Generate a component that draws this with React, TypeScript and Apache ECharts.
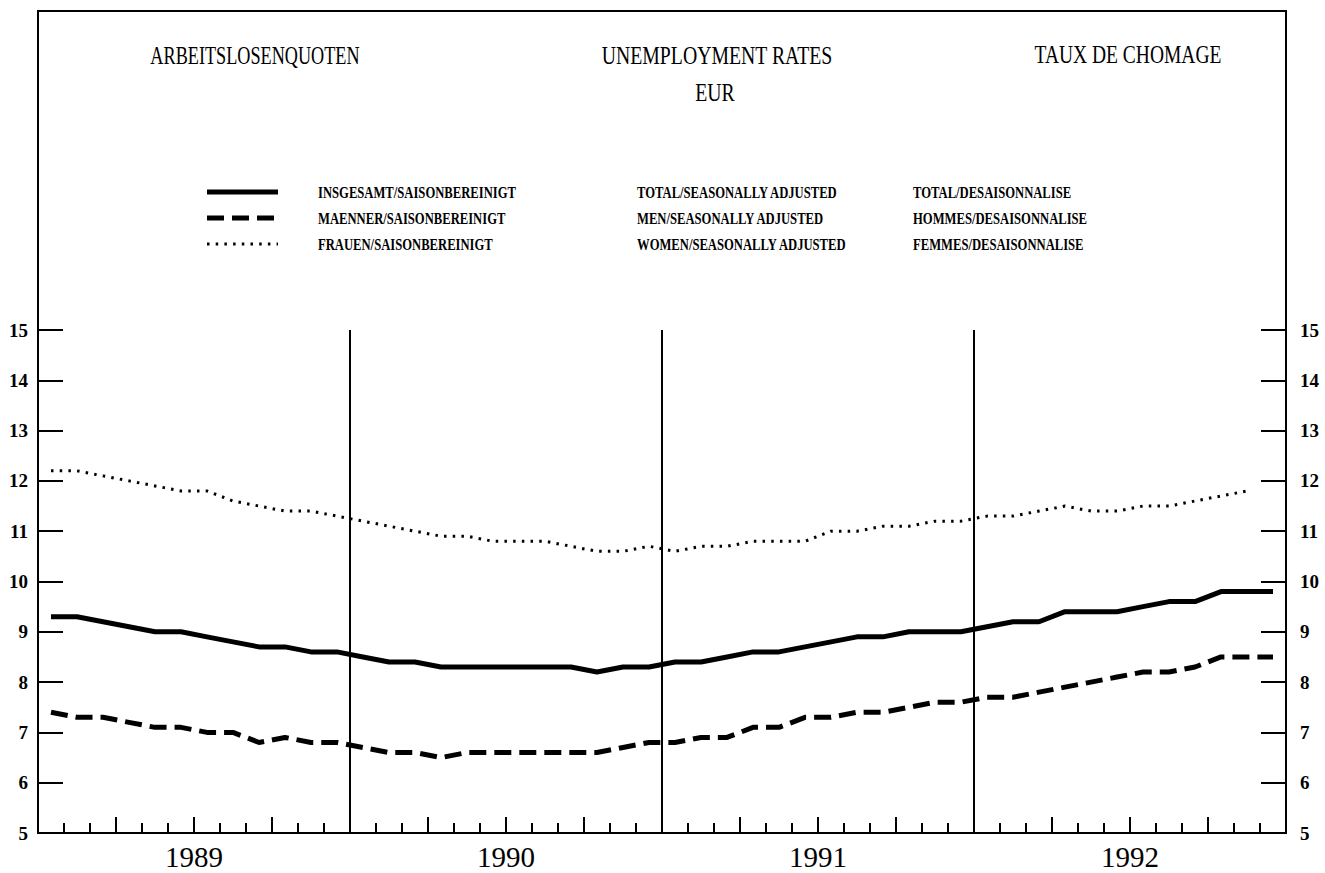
import React, { useEffect, useRef } from "react";
import * as echarts from "echarts";

const years = ["1989", "1990", "1991", "1992"];
const monthNames = ["01", "02", "03", "04", "05", "06", "07", "08", "09", "10", "11", "12"];
const months = years.flatMap((y) => monthNames.map((m) => `${y}-${m}`));
const quarters = years.flatMap((y) => ["Q1", "Q2", "Q3", "Q4"].map((q) => `${y}${q}`));

const yMin = 5;
const yMax = 15;

const totalSA = [
  9.3, 9.3, 9.2, 9.1, 9.0, 9.0, 8.9, 8.8, 8.7, 8.7, 8.6, 8.6,
  8.5, 8.4, 8.4, 8.3, 8.3, 8.3, 8.3, 8.3, 8.3, 8.2, 8.3, 8.3,
  8.4, 8.4, 8.5, 8.6, 8.6, 8.7, 8.8, 8.9, 8.9, 9.0, 9.0, 9.0,
  9.1, 9.2, 9.2, 9.4, 9.4, 9.4, 9.5, 9.6, 9.6, 9.8, 9.8, 9.8,
];
const menSA = [
  7.4, 7.3, 7.3, 7.2, 7.1, 7.1, 7.0, 7.0, 6.8, 6.9, 6.8, 6.8,
  6.7, 6.6, 6.6, 6.5, 6.6, 6.6, 6.6, 6.6, 6.6, 6.6, 6.7, 6.8,
  6.8, 6.9, 6.9, 7.1, 7.1, 7.3, 7.3, 7.4, 7.4, 7.5, 7.6, 7.6,
  7.7, 7.7, 7.8, 7.9, 8.0, 8.1, 8.2, 8.2, 8.3, 8.5, 8.5, 8.5,
];
const womenSA = [
  12.2, 12.2, 12.1, 12.0, 11.9, 11.8, 11.8, 11.6, 11.5, 11.4, 11.4, 11.3,
  11.2, 11.1, 11.0, 10.9, 10.9, 10.8, 10.8, 10.8, 10.7, 10.6, 10.6, 10.7,
  10.6, 10.7, 10.7, 10.8, 10.8, 10.8, 11.0, 11.0, 11.1, 11.1, 11.2, 11.2,
  11.3, 11.3, 11.4, 11.5, 11.4, 11.4, 11.5, 11.5, 11.6, 11.7, 11.8, null,
];

const titles = ["ARBEITSLOSENQUOTEN", "UNEMPLOYMENT RATES", "TAUX DE CHOMAGE", "EUR"];
const legendDe = ["INSGESAMT/SAISONBEREINIGT", "MAENNER/SAISONBEREINIGT", "FRAUEN/SAISONBEREINIGT"];
const legendEn = ["TOTAL/SEASONALLY ADJUSTED", "MEN/SEASONALLY ADJUSTED", "WOMEN/SEASONALLY ADJUSTED"];
const legendFr = ["TOTAL/DESAISONNALISE", "HOMMES/DESAISONNALISE", "FEMMES/DESAISONNALISE"];

const SERIF = "'Liberation Serif', 'DejaVu Serif', serif";

const solidStyle = { color: "#000", width: 5, type: "solid" as const };
const dashedStyle = { color: "#000", width: 5, type: [17, 8] as number[], cap: "butt" as const };
const dottedStyle = { color: "#000", width: 3, type: [2.5, 6.2] as number[], cap: "butt" as const };

function titleText(text: string, x: number, y: number, scaleX: number) {
  return {
    type: "text",
    x,
    y,
    scaleX,
    style: {
      text,
      fontFamily: SERIF,
      fontSize: 26,
      fill: "#000",
      align: "center",
      verticalAlign: "middle",
      textAlign: "center",
      textVerticalAlign: "middle",
    },
  };
}

function legendText(text: string, x: number, y: number) {
  return {
    type: "text",
    x,
    y,
    scaleX: 0.79,
    style: {
      text,
      fontFamily: SERIF,
      fontWeight: "bold",
      fontSize: 16,
      fill: "#000",
      align: "left",
      verticalAlign: "middle",
      textAlign: "left",
      textVerticalAlign: "middle",
    },
  };
}

export default function App() {
  const ref = useRef<HTMLDivElement>(null);

  useEffect(() => {
    if (!ref.current) return;
    const chart = echarts.init(ref.current, undefined, { renderer: "svg" });

    const rowY = [192, 218, 244];
    const lineStyles = [solidStyle, dashedStyle, dottedStyle];

    const graphic: any[] = [
      {
        type: "rect",
        shape: { x: 38, y: 11, width: 1248, height: 822 },
        style: { fill: "none", stroke: "#000", lineWidth: 2 },
        z: 10,
      },
      titleText(titles[0], 255, 55, 0.7),
      titleText(titles[1], 717, 55, 0.76),
      titleText(titles[2], 1128, 55, 0.75),
      titleText(titles[3], 715, 92, 0.76),
    ];
    rowY.forEach((y, i) => {
      const ls = lineStyles[i];
      graphic.push({
        type: "line",
        shape: { x1: 207, y1: y, x2: 278, y2: y },
        style: {
          stroke: "#000",
          lineWidth: ls.width,
          lineDash: ls.type === "solid" ? null : ls.type,
          lineCap: "butt",
        },
      });
      graphic.push(legendText(legendDe[i], 318, y));
      graphic.push(legendText(legendEn[i], 637, y));
      graphic.push(legendText(legendFr[i], 913, y));
    });

    const yAxisCommon = {
      type: "value",
      min: yMin,
      max: yMax,
      interval: 1,
      axisLine: { show: true, lineStyle: { color: "#000", width: 2 } },
      axisTick: { show: true, inside: true, length: 25, lineStyle: { color: "#000", width: 2 } },
      splitLine: { show: false },
    };

    chart.setOption({
      animation: false,
      backgroundColor: "#fff",
      grid: { left: 38, right: 39, top: 330, bottom: 40, containLabel: false },
      graphic,
      xAxis: [
        {
          type: "category",
          data: months,
          boundaryGap: true,
          position: "bottom",
          axisLine: { show: true, lineStyle: { color: "#000", width: 2 } },
          axisTick: { show: true, inside: true, length: 10, interval: 0, lineStyle: { color: "#000", width: 2 } },
          axisLabel: { show: false },
          splitLine: { show: false },
        },
        {
          type: "category",
          data: quarters,
          boundaryGap: true,
          position: "bottom",
          axisLine: { show: false },
          axisTick: { show: true, inside: true, length: 16, interval: 0, lineStyle: { color: "#000", width: 2 } },
          axisLabel: { show: false },
          splitLine: { show: false },
        },
        {
          type: "category",
          data: years,
          boundaryGap: true,
          position: "bottom",
          axisLine: { show: false },
          axisTick: { show: false },
          axisLabel: {
            show: true,
            interval: 0,
            margin: 9,
            color: "#000",
            fontFamily: SERIF,
            fontSize: 29,
          },
          splitLine: { show: true, interval: 0, lineStyle: { color: "#000", width: 2 } },
        },
      ],
      yAxis: [
        {
          ...yAxisCommon,
          position: "left",
          axisLabel: {
            show: true,
            margin: 10,
            color: "#000",
            fontFamily: SERIF,
            fontWeight: "bold",
            fontSize: 19,
          },
        },
        {
          ...yAxisCommon,
          position: "right",
          axisLabel: {
            show: true,
            margin: 14,
            color: "#000",
            fontFamily: SERIF,
            fontWeight: "bold",
            fontSize: 19,
          },
        },
      ],
      series: [
        {
          name: "INSGESAMT/SAISONBEREINIGT",
          type: "line",
          xAxisIndex: 0,
          yAxisIndex: 0,
          data: totalSA,
          showSymbol: false,
          symbol: "none",
          lineStyle: solidStyle,
          z: 5,
        },
        {
          name: "MAENNER/SAISONBEREINIGT",
          type: "line",
          xAxisIndex: 0,
          yAxisIndex: 0,
          data: menSA,
          showSymbol: false,
          symbol: "none",
          lineStyle: dashedStyle,
          z: 5,
        },
        {
          name: "FRAUEN/SAISONBEREINIGT",
          type: "line",
          xAxisIndex: 0,
          yAxisIndex: 0,
          data: womenSA,
          showSymbol: false,
          symbol: "none",
          connectNulls: false,
          lineStyle: dottedStyle,
          z: 5,
        },
      ],
    });

    return () => chart.dispose();
  }, []);

  return (
    <div
      ref={ref}
      style={{ position: "fixed", left: 0, top: 0, width: 1325, height: 873, background: "#fff" }}
    />
  );
}
